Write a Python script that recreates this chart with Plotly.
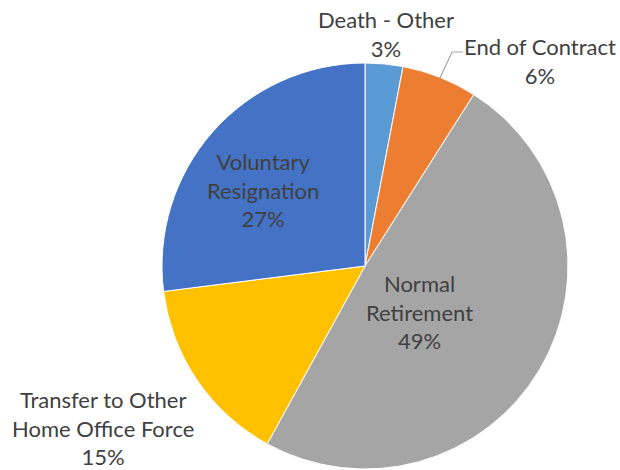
import plotly.graph_objects as go

# reasons for leaving, clockwise from 12 o'clock
labels = ["Death - Other", "End of Contract", "Normal Retirement",
          "Transfer to Other Home Office Force", "Voluntary Resignation"]
values = [3, 6, 49, 15, 27]
colors = ["#5B9BD5", "#ED7D31", "#A5A5A5", "#FFC000", "#4472C4"]

# how each label is broken over lines on the chart
label_lines = ["Death - Other", "End of Contract", "Normal<br>Retirement",
               "Transfer to Other<br>Home Office Force", "Voluntary<br>Resignation"]

W, H = 620, 470
cx, cy, r = 365, 266, 203

fig = go.Figure(go.Pie(
    labels=labels,
    values=values,
    sort=False,
    direction="clockwise",
    rotation=0,
    marker=dict(colors=colors, line=dict(color="white", width=1)),
    textinfo="none",
    hoverinfo="label+percent",
    domain=dict(x=[(cx - r) / W, (cx + r) / W], y=[(H - cy - r) / H, (H - cy + r) / H]),
))

# label anchor points (pixel centres)
label_pos = [(386, 34), (540, 61), (420, 312), (103, 428), (263, 190)]

annotations = []
for txt, v, (px, py) in zip(label_lines, values, label_pos):
    annotations.append(dict(
        text=f"{txt}<br>{v}%", x=px / W, y=1 - py / H, xref="paper", yref="paper",
        xanchor="center", yanchor="middle", showarrow=False, align="center",
        font=dict(family="Lato", size=22, color="#404040"),
    ))

# leader line for End of Contract
pts = [(463, 52), (452, 52), (440, 78)]
path = "M " + " L ".join(f"{x / W} {1 - y / H}" for x, y in pts)
fig.update_layout(
    width=W, height=H,
    margin=dict(l=0, r=0, t=0, b=0),
    paper_bgcolor="white",
    showlegend=False,
    annotations=annotations,
    shapes=[dict(type="path", path=path, xref="paper", yref="paper",
                 line=dict(color="#A6A6A6", width=1.2))],
)

# drop the browser's default body margin so the figure sits at 0,0
fig.write_html("out.html", config={"displayModeBar": False},
               post_script="document.body.style.margin='0';")
